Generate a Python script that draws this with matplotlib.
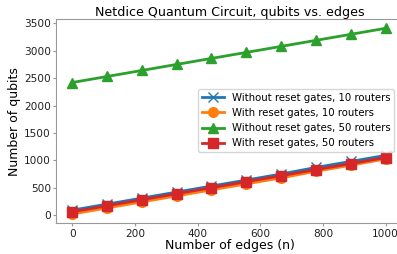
import numpy as np
import matplotlib
matplotlib.use('Agg')
import matplotlib.pyplot as plt

# number of edges
edges = [0, 111, 222, 333, 444, 556, 667, 778, 889, 1000]

# qubit counts
no_reset_10 = [90, 200, 310, 420, 530, 640, 750, 870, 980, 1090]
reset_10 = [20, 130, 240, 350, 460, 570, 680, 800, 910, 1025]
no_reset_50 = [2420, 2530, 2640, 2750, 2860, 2970, 3080, 3190, 3300, 3410]
reset_50 = [60, 170, 280, 390, 500, 610, 720, 830, 940, 1050]

labels = ['Without reset gates, 10 routers', 'With reset gates, 10 routers',
          'Without reset gates, 50 routers', 'With reset gates, 50 routers']

fig = plt.figure(figsize=(3.97, 2.54), dpi=100)
ax = fig.add_axes([56.5 / 397, 1 - 223.3 / 254, 347 / 397, (223.3 - 19) / 254])

ax.plot(edges, no_reset_10, color='#1f77b4', marker='x', markersize=7, linewidth=2.0, label=labels[0])
ax.plot(edges, reset_10, color='#ff7f0e', marker='o', markersize=7, linewidth=2.0, label=labels[1])
ax.plot(edges, no_reset_50, color='#2ca02c', marker='^', markersize=7.5, linewidth=2.0, label=labels[2])
ax.plot(edges, reset_50, color='#d62728', marker='s', markersize=7, linewidth=2.0, label=labels[3])

ax.set_xlim(-50, 1057)

for s in ax.spines.values():
    s.set_color('#999999')
ax.tick_params(labelsize=7.6, color='#999999', labelcolor='#222222', length=2.5, pad=1.5)

ax.set_title('Netdice Quantum Circuit, qubits vs. edges', fontsize=9.1, pad=2)
ax.set_xlabel('Number of edges (n)', fontsize=9.0, labelpad=0)
ax.set_ylabel('Number of qubits', fontsize=9.0, labelpad=2)

ax.legend(loc='center right', bbox_to_anchor=(0.974, 0.503), borderaxespad=0, fontsize=7.3,
          handlelength=2.2, framealpha=0.8, borderpad=0.35, labelspacing=0.5)

fig.savefig('out.png', dpi=100)
